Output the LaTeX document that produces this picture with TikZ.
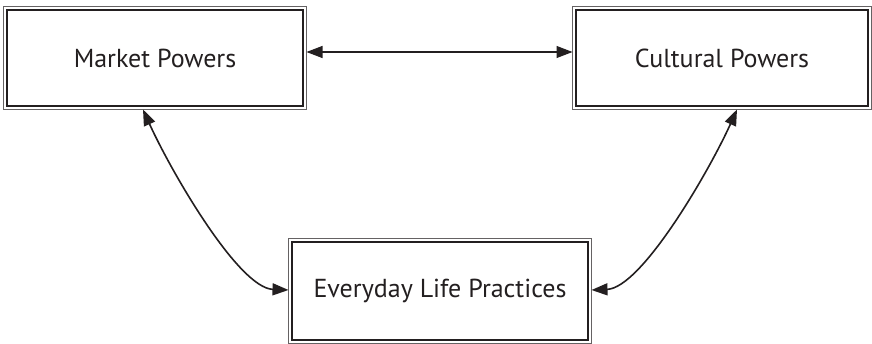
\documentclass[tikz,border=0pt]{standalone}
\usepackage{fontspec}
\setmainfont{PT Sans}
\usetikzlibrary{arrows.meta}
\definecolor{ink}{HTML}{231F20}
\tikzset{
  box/.style={draw=ink, line width=1.1pt, minimum width=296pt, minimum height=96pt,
    inner sep=0pt, outer sep=3.5pt, text=ink, font=\fontsize{26}{30}\selectfont},
  frame/.style={draw=ink!70, line width=0.9pt},
  tip/.tip={Triangle[length=16pt,width=12pt]},
  link/.style={draw=ink, line width=1.6pt, tip-tip}
}
\begin{document}
\begin{tikzpicture}[x=1pt,y=-1pt]
\useasboundingbox (0,0) rectangle (872,344);
\node[box] (mp) at (155,58) {Market Powers};
\node[box, minimum width=292pt] (cp) at (722,58) {Cultural Powers};
\node[box, minimum height=98pt] (el) at (440,291) {Everyday Life Practices};
\foreach \n in {mp,cp,el}
  \draw[frame] (\n.north west) rectangle (\n.south east);
\draw[link, line width=1.1pt] ([yshift=6pt]mp.east) -- ([yshift=6pt]cp.west);
\draw[link] ([xshift=-12pt]mp.south) .. controls +(28,62) and +(-50,-2) .. ([yshift=1pt]el.west);
\draw[link] ([xshift=15pt]cp.south) .. controls +(-28,62) and +(50,-2) .. ([yshift=1pt]el.east);
\end{tikzpicture}
\end{document}
